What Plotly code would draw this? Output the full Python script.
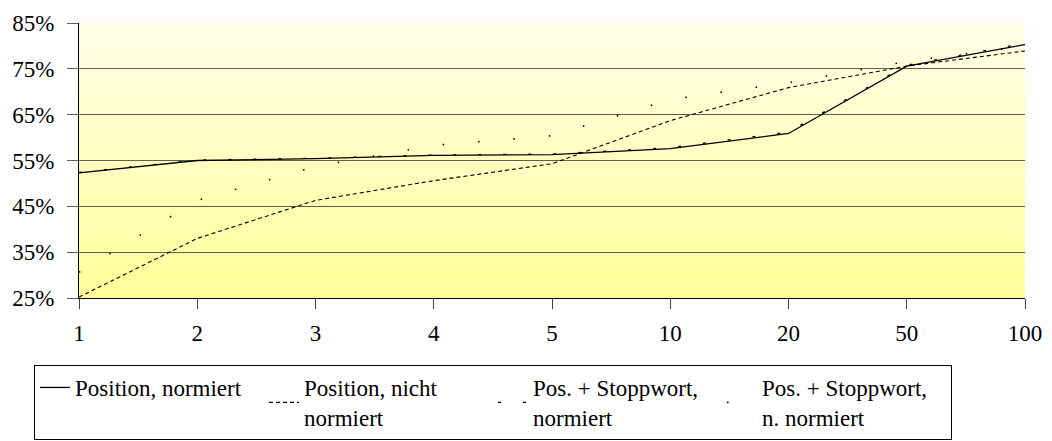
import plotly.graph_objects as go

# Cut-off positions (categories on the x axis)
categories = ["1", "2", "3", "4", "5", "10", "20", "50", "100"]

# Share of relevant results per cut-off, in percent
position_normiert = [52.3, 55.0, 55.4, 56.1, 56.3, 57.6, 60.9, 75.6, 80.3]
position_nicht_normiert = [25.2, 38.0, 46.3, 50.6, 54.3, 63.7, 70.9, 75.6, 78.9]
stoppwort_normiert = [52.4, 55.1, 55.5, 56.2, 56.4, 57.8, 61.2, 75.8, 80.6]
stoppwort_n_normiert = [30.6, 46.3, 53.7, 58.3, 60.4, 68.3, 72.0, 76.6, 80.0]

series_names = [
    "Position, normiert",
    "Position, nicht<br>normiert",
    "Pos. + Stoppwort,<br>normiert",
    "Pos. + Stoppwort,<br>n. normiert",
]

y_ticks = [25, 35, 45, 55, 65, 75, 85]

FONT = '"Liberation Serif", "Times New Roman", Times, "DejaVu Serif", serif'

fig = go.Figure()

styles = [
    dict(color="black", width=1.3, dash="solid"),
    dict(color="black", width=1.1, dash="4px,3px"),
    dict(color="black", width=1.3, dash="3px,22px"),
    dict(color="black", width=1.6, dash="1.5px,34px"),
]
series = [position_normiert, position_nicht_normiert, stoppwort_normiert, stoppwort_n_normiert]

for name, vals, st in zip(series_names, series, styles):
    fig.add_trace(go.Scatter(
        x=categories,
        y=[v / 100 for v in vals],
        mode="lines",
        name=name,
        line=st,
    ))

# Vertical light-to-deep yellow gradient behind the plot area
n_bands = 90
top = (255, 255, 232)
bottom = (255, 255, 153)
shapes = []
for i in range(n_bands):
    t = i / (n_bands - 1)
    r = round(bottom[0] + (top[0] - bottom[0]) * t)
    g = round(bottom[1] + (top[1] - bottom[1]) * t)
    b = round(bottom[2] + (top[2] - bottom[2]) * t)
    shapes.append(dict(
        type="rect", xref="paper", yref="paper",
        x0=0, x1=1, y0=i / n_bands, y1=(i + 1) / n_bands + 0.002,
        fillcolor=f"rgb({r},{g},{b})", line=dict(width=0), layer="below",
    ))

W, H = 1052, 441
ml, mr, mt, mb = 79, 27, 23, 143
plot_h = H - mt - mb
plot_w = W - ml - mr

fig.update_layout(
    width=W, height=H,
    margin=dict(l=ml, r=mr, t=mt, b=mb, pad=0, autoexpand=False),
    paper_bgcolor="white",
    plot_bgcolor="rgba(0,0,0,0)",
    font=dict(family=FONT, size=23, color="black"),
    shapes=shapes,
    showlegend=True,
    legend=dict(
        orientation="h",
        x=(34 - ml) / plot_w, xanchor="left",
        y=-(365 - (H - mb)) / plot_h, yanchor="top",
        bgcolor="white", bordercolor="black", borderwidth=1,
        font=dict(family=FONT, size=23, color="black"),
        entrywidth=184, entrywidthmode="pixels",
        itemwidth=30,
        tracegroupgap=0,
    ),
)

fig.update_xaxes(
    type="category",
    range=[0, len(categories) - 1],
    showgrid=False,
    showline=True, linecolor="black", linewidth=1,
    ticks="outside", ticklen=10, tickcolor="#444", tickwidth=1,
    ticklabelstandoff=4,
    tickfont=dict(family=FONT, size=23, color="black"),
    fixedrange=True,
)

fig.update_yaxes(
    range=[0.25, 0.85],
    tickvals=[v / 100 for v in y_ticks],
    ticktext=[f"{v}%" for v in y_ticks],
    showgrid=True, gridcolor="#5f5f4f", gridwidth=1,
    showline=True, linecolor="black", linewidth=1,
    ticks="outside", ticklen=11, tickcolor="#5f5f4f", tickwidth=1,
    ticklabelstandoff=8,
    zeroline=False,
    tickfont=dict(family=FONT, size=23, color="black"),
    fixedrange=True,
)

fig.write_html("out.html")
